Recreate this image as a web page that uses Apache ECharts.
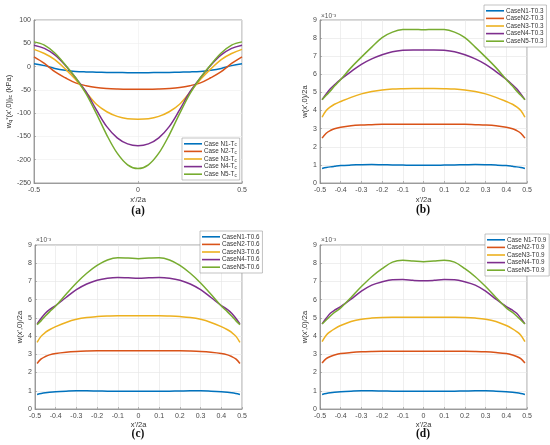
<!DOCTYPE html>
<html>
<head>
<meta charset="utf-8">
<script src="https://cdn.jsdelivr.net/npm/echarts@6/dist/echarts.min.js"></script>
<style>html,body{margin:0;padding:0;background:#fff}#c{width:550px;height:445px}</style>
</head>
<body>
<div id="c"></div>
<script>
// ---------- DATA ----------
const colors = ['#0072BD', '#D95319', '#EDB120', '#7E2F8E', '#77AC30'];

// Panel (a)
const xA = [-0.5,-0.45,-0.4,-0.35,-0.3,-0.25,-0.2,-0.15,-0.1,-0.05,0,0.05,0.1,0.15,0.2,0.25,0.3,0.35,0.4,0.45,0.5];
const namesA = ['Case N1-Tc','Case N2-Tc','Case N3-Tc','Case N4-Tc','Case N5-Tc'];
const aN1 = [6,2,-4,-8,-10.5,-11.5,-12,-12.5,-12.8,-13,-13,-13,-12.8,-12.5,-12,-11.5,-10.5,-8,-4,2,6];
const aN2 = [21,7,-11,-24,-35,-41,-45,-47,-48,-48.5,-48.5,-48.5,-48,-47,-45,-41,-35,-24,-11,7,21];
const aN3 = [37,28,15,-5,-28,-55,-81,-97,-107,-112,-113,-112,-107,-97,-81,-55,-28,-5,15,28,37];
const aN4 = [46,39,25,3,-24,-54,-93,-129,-153,-166,-170,-166,-153,-129,-93,-54,-24,3,25,39,46];
const aN5 = [53,46,29,4,-24,-58,-101,-147,-186,-211,-219,-211,-186,-147,-101,-58,-24,4,29,46,53];

// Panels (b)-(d) : x grid and values (x 10^-3)
const xB = [-0.49,-0.47,-0.45,-0.43,-0.4,-0.35,-0.3,-0.25,-0.2,-0.15,-0.1,-0.05,0,0.05,0.1,0.15,0.2,0.25,0.3,0.35,0.4,0.43,0.45,0.47,0.49];

const namesB = ['CaseN1-T0.3','CaseN2-T0.3','CaseN3-T0.3','CaseN4-T0.3','CaseN5-T0.3'];
const bN1 = [0.8,0.85,0.89,0.92,0.96,0.99,1.01,1.02,1.01,1.0,0.99,0.98,0.98,0.98,0.99,1.0,1.01,1.02,1.01,0.99,0.96,0.92,0.89,0.85,0.8];
const bN2 = [2.48,2.75,2.9,3.0,3.08,3.16,3.2,3.22,3.24,3.24,3.24,3.24,3.24,3.24,3.24,3.24,3.24,3.22,3.2,3.16,3.08,3.0,2.9,2.75,2.48];
const bN3 = [3.63,4.0,4.2,4.35,4.5,4.73,4.92,5.05,5.14,5.19,5.21,5.22,5.22,5.22,5.21,5.19,5.14,5.05,4.92,4.73,4.5,4.35,4.2,4.0,3.63];
const bN4 = [4.6,4.92,5.2,5.42,5.72,6.15,6.55,6.85,7.08,7.25,7.33,7.35,7.35,7.35,7.33,7.25,7.08,6.85,6.55,6.15,5.72,5.42,5.2,4.92,4.6];
const bN5 = [4.6,4.84,5.08,5.35,5.72,6.37,6.95,7.5,8.03,8.33,8.47,8.48,8.46,8.48,8.47,8.33,8.03,7.5,6.95,6.37,5.72,5.35,5.08,4.84,4.6];

const namesC = ['CaseN1-T0.6','CaseN2-T0.6','CaseN3-T0.6','CaseN4-T0.6','CaseN5-T0.6'];
const cN1 = [0.8,0.85,0.89,0.92,0.95,0.98,1.0,1.0,0.99,0.98,0.97,0.97,0.97,0.97,0.97,0.98,0.99,1.0,1.0,0.98,0.95,0.92,0.89,0.85,0.8];
const cN2 = [2.5,2.75,2.88,2.97,3.05,3.12,3.16,3.18,3.19,3.19,3.19,3.19,3.19,3.19,3.19,3.19,3.19,3.18,3.16,3.12,3.05,2.97,2.88,2.75,2.5];
const cN3 = [3.66,4.0,4.2,4.35,4.52,4.75,4.92,5.02,5.07,5.1,5.12,5.12,5.12,5.12,5.12,5.1,5.07,5.02,4.92,4.75,4.52,4.35,4.2,4.0,3.66];
const cN4 = [4.67,4.98,5.25,5.45,5.68,6.12,6.55,6.86,7.07,7.18,7.22,7.2,7.18,7.2,7.22,7.18,7.07,6.86,6.55,6.12,5.68,5.45,5.25,4.98,4.67];
const cN5 = [4.62,4.85,5.1,5.33,5.65,6.3,6.92,7.45,7.88,8.18,8.3,8.28,8.25,8.28,8.3,8.18,7.88,7.45,6.92,6.3,5.65,5.33,5.1,4.85,4.62];

const namesD = ['Case N1-T0.9','CaseN2-T0.9','CaseN3-T0.9','CaseN4-T0.9','CaseN5-T0.9'];
const dN1 = [0.8,0.85,0.89,0.92,0.95,0.98,1.0,1.0,0.99,0.98,0.97,0.97,0.97,0.97,0.97,0.98,0.99,1.0,1.0,0.98,0.95,0.92,0.89,0.85,0.8];
const dN2 = [2.52,2.76,2.88,2.96,3.04,3.1,3.14,3.16,3.17,3.17,3.17,3.17,3.17,3.17,3.17,3.17,3.17,3.16,3.14,3.1,3.04,2.96,2.88,2.76,2.52];
const dN3 = [3.7,4.05,4.25,4.4,4.58,4.8,4.93,4.99,5.02,5.03,5.03,5.03,5.03,5.03,5.03,5.03,5.02,4.99,4.93,4.8,4.58,4.4,4.25,4.05,3.7];
const dN4 = [4.67,4.98,5.25,5.42,5.62,6.03,6.47,6.8,6.98,7.09,7.1,7.06,7.04,7.06,7.1,7.09,6.98,6.8,6.47,6.03,5.62,5.42,5.25,4.98,4.67];
const dN5 = [4.67,4.88,5.1,5.3,5.55,6.12,6.72,7.26,7.7,8.06,8.16,8.12,8.08,8.12,8.16,8.06,7.7,7.26,6.72,6.12,5.55,5.3,5.1,4.88,4.67];

const ticksA_y = {min: -250, max: 100, interval: 50};
const ticksB_y = {min: 0, max: 9, interval: 1};

// ---------- BUILD ----------
const FONT = 'Liberation Sans, Arial, sans-serif';
const tickColor = '#4a4a4a';
const axisLineColor = '#8a8a8a';

const grids = [
  {left: 34, top: 20, width: 208, height: 163},
  {left: 320, top: 20, width: 207, height: 163},
  {left: 35, top: 245, width: 207, height: 164},
  {left: 320, top: 245, width: 207, height: 164}
].map(g => Object.assign(g, {show: true, borderColor: axisLineColor, borderWidth: 0.8, backgroundColor: '#fff'}));

function fmtX(v) { const r = Math.round(v * 10) / 10; return r === 0 ? '0' : String(r); }

function xAxis(i, interval, gap) {
  return {
    type: 'value', gridIndex: i, min: -0.5, max: 0.5, interval: interval,
    name: "x'/2a", nameLocation: 'middle', nameGap: gap,
    nameTextStyle: {fontSize: 7.5, color: '#333', fontFamily: FONT},
    axisLine: {show: true, onZero: false, lineStyle: {color: axisLineColor, width: 0.8}},
    axisTick: {show: true, inside: true, length: 2, lineStyle: {color: axisLineColor, width: 0.6}},
    axisLabel: {fontSize: 7, color: tickColor, margin: 4, fontFamily: FONT, formatter: fmtX},
    splitLine: {show: true, lineStyle: {color: i === 0 ? '#efefef' : '#e4e4e4', width: 0.6}}
  };
}
function yAxis(i, t, name, gap) {
  return {
    type: 'value', gridIndex: i, min: t.min, max: t.max, interval: t.interval,
    name: name, nameLocation: 'middle', nameGap: gap,
    nameTextStyle: {fontSize: 7.5, color: '#333', fontFamily: FONT,
      rich: {n: {fontSize: 7.5, color: '#333', fontFamily: FONT},
             s: {fontSize: 5.5, color: '#333', fontFamily: FONT, verticalAlign: 'bottom'},
             p: {fontSize: 6, color: '#333', fontFamily: FONT, verticalAlign: 'top'}}},
    axisLine: {show: true, onZero: false, lineStyle: {color: axisLineColor, width: 0.8}},
    axisTick: {show: true, inside: true, length: 2, lineStyle: {color: axisLineColor, width: 0.6}},
    axisLabel: {fontSize: 7, color: tickColor, margin: 3, fontFamily: FONT},
    splitLine: {show: true, lineStyle: {color: i === 0 ? '#efefef' : '#e4e4e4', width: 0.6}}
  };
}

const panels = [
  {xs: xA, names: namesA, ys: [aN1, aN2, aN3, aN4, aN5]},
  {xs: xB, names: namesB, ys: [bN1, bN2, bN3, bN4, bN5]},
  {xs: xB, names: namesC, ys: [cN1, cN2, cN3, cN4, cN5]},
  {xs: xB, names: namesD, ys: [dN1, dN2, dN3, dN4, dN5]}
];

const series = [];
panels.forEach((p, gi) => {
  p.ys.forEach((ys, k) => {
    series.push({
      type: 'line', name: p.names[k], xAxisIndex: gi, yAxisIndex: gi,
      data: p.xs.map((x, j) => [x, ys[j]]),
      smooth: 0.35, showSymbol: false, symbol: 'none',
      lineStyle: {color: colors[k], width: 1.5}, itemStyle: {color: colors[k]},
      z: 2 + k
    });
  });
});

const legendPos = [
  {left: 182, top: 138},
  {left: 484, top: 5},
  {left: 200, top: 231},
  {left: 485, top: 234}
];
const legends = panels.map((p, gi) => ({
  data: p.names, orient: 'vertical', left: legendPos[gi].left, top: legendPos[gi].top,
  selectedMode: false, icon: 'rect', itemWidth: 18, itemHeight: 1.6, itemGap: 0,
  padding: [2, 3, 2, 2], backgroundColor: '#fff', borderColor: '#9a9a9a', borderWidth: 0.6,
  textStyle: {fontSize: 6.3, color: '#333', fontFamily: FONT, lineHeight: 7.6, padding: [0, 0, 0, -3],
    rich: {n: {fontSize: 6.3, color: '#333', fontFamily: FONT}, s: {fontSize: 4.5, color: '#333', fontFamily: FONT, verticalAlign: 'bottom'}}},
  formatter: n => n.endsWith('Tc') ? '{n|' + n.slice(0, -1) + '}{s|c}' : n,
  z: 20
}));

const captions = [
  {t: '(a)', x: 138, y: 211},
  {t: '(b)', x: 423, y: 210},
  {t: '(c)', x: 138, y: 434},
  {t: '(d)', x: 423, y: 434}
];
const graphics = captions.map(c => ({
  type: 'text', x: c.x, y: c.y, z: 30,
  style: {text: c.t, fill: '#111', font: 'bold 11.5px "Liberation Serif", "DejaVu Serif", serif', textAlign: 'center', textVerticalAlign: 'middle'}
}));
[[321, 16], [36, 240.5], [321, 240.5]].forEach(([x, y]) => graphics.push({
  type: 'text', x: x, y: y, z: 30,
  style: {text: '×10⁻³', fill: '#555', font: '6.5px "Liberation Sans", Arial, sans-serif', textAlign: 'left', textVerticalAlign: 'middle'}
}));

const yNameA = "{n|w}{s|q}{p|*}{n|(x',0)|}{s|tc}{n| (kPa)}";

const option = {
  animation: false,
  backgroundColor: '#fff',
  grid: grids,
  xAxis: [xAxis(0, 0.5, 13), xAxis(1, 0.1, 13), xAxis(2, 0.1, 10.5), xAxis(3, 0.1, 10.5)],
  yAxis: [
    yAxis(0, ticksA_y, yNameA, 20),
    yAxis(1, ticksB_y, "w(x',0)/2a", 8),
    yAxis(2, ticksB_y, "w(x',0)/2a", 11),
    yAxis(3, ticksB_y, "w(x',0)/2a", 8)
  ],
  legend: legends,
  series: series,
  graphic: graphics
};

const chart = echarts.init(document.getElementById('c'), null, {renderer: 'canvas'});
chart.setOption(option);
</script>
</body>
</html>
